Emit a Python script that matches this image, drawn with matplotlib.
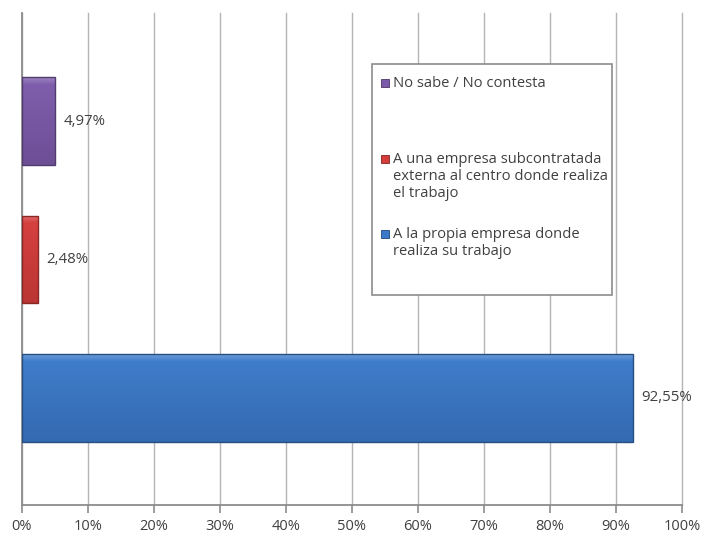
import matplotlib
matplotlib.use("Agg")
import matplotlib.pyplot as plt
import numpy as np
from matplotlib.patches import Rectangle
from matplotlib.colors import to_rgb

plt.rcParams['font.family'] = ['Open Sans', 'DejaVu Sans']

# Series, drawn bottom to top
series = ["A la propia empresa donde\nrealiza su trabajo",
          "A una empresa subcontratada\nexterna al centro donde realiza\nel trabajo",
          "No sabe / No contesta"]
values = [92.55, 2.48, 4.97]
value_labels = ["92,55%", "2,48%", "4,97%"]
colors = ["#3b79c9", "#d43d3b", "#7c5aaa"]
xticks = [0, 10, 20, 30, 40, 50, 60, 70, 80, 90, 100]
xtick_labels = [f"{t}%" for t in xticks]

text_color = "#404040"

fig = plt.figure(figsize=(7.02, 5.35), dpi=100)
ax = fig.add_axes([22 / 702, 30 / 535, 660 / 702, 492 / 535])

pos = np.arange(len(values))
bars = ax.barh(pos, values, height=0.635, color=colors, zorder=3,
               edgecolor="none")


def shade(c, f):
    r = np.array(to_rgb(c))
    if f >= 0:
        return r + (1 - r) * f
    return r * (1 + f)


# soft bevel: vertical gradient (light top, darker bottom) and a dark rim
for b, c in zip(bars, colors):
    x0, y0, w, h = b.get_x(), b.get_y(), b.get_width(), b.get_height()
    n = 64
    t = np.linspace(0, 1, n)[:, None]  # 0 = top of bar, 1 = bottom
    top = shade(c, 0.25)
    mid = shade(c, 0.02)
    bot = shade(c, -0.12)
    grad = np.where(t < 0.08,
                    top + (mid - top) * (t / 0.08),
                    mid + (bot - mid) * ((t - 0.08) / 0.92))
    img = grad[:, None, :].repeat(2, axis=1)
    im = ax.imshow(img, extent=(x0, x0 + w, y0, y0 + h), aspect="auto",
                   interpolation="bilinear", zorder=4, origin="upper")
    im.set_clip_path(b)
    ax.add_patch(Rectangle((x0, y0), w, h, fill=False,
                           edgecolor=shade(c, -0.35), linewidth=1.0, zorder=5))

for v, p, lab in zip(values, pos, value_labels):
    ax.annotate(lab, xy=(v, p), xytext=(6, 0), textcoords="offset points",
                ha="left", va="center", fontsize=10.8, color=text_color,
                zorder=6)

ax.set_xlim(0, 100)
ax.set_ylim(-0.7726, 2.7798)
ax.set_xticks(xticks)
ax.set_xticklabels(xtick_labels)
ax.set_yticks([])
ax.grid(axis="x", color="#b4b4b4", linewidth=1.0, zorder=0)
for gl in ax.get_xgridlines():
    gl.set_clip_on(False)
ax.set_axisbelow(True)
for s in ("top", "right"):
    ax.spines[s].set_visible(False)
for s in ("left", "bottom"):
    ax.spines[s].set_color("#8c8c8c")
    ax.spines[s].set_linewidth(1.3)
ax.tick_params(axis="x", direction="out", length=6, width=1.2,
               color="#8c8c8c", labelsize=10.5, labelcolor=text_color, pad=4)


# legend box with entries listed top to bottom
def fx(px):
    return px / 702


def fy(py):
    return 1 - py / 535


fig.patches.append(Rectangle((fx(372), fy(295)), fx(612) - fx(372),
                             fy(64) - fy(295), transform=fig.transFigure,
                             facecolor="white", edgecolor="#8c8c8c",
                             linewidth=1.2, zorder=10))
entry_y = [234, 159, 83]  # first-line centre of each entry, in pixels
for label, c, y in zip(series, colors, entry_y):
    fig.patches.append(Rectangle((fx(381), fy(y + 4)), fx(8), 8 / 535,
                                 transform=fig.transFigure, facecolor=c,
                                 edgecolor=shade(c, -0.4), linewidth=0.6,
                                 zorder=11))
    fig.text(fx(393), fy(y - 7), label, ha="left", va="top", fontsize=10.6,
             color=text_color, linespacing=1.2, zorder=12)

fig.savefig("out.png", dpi=100, facecolor="white")
